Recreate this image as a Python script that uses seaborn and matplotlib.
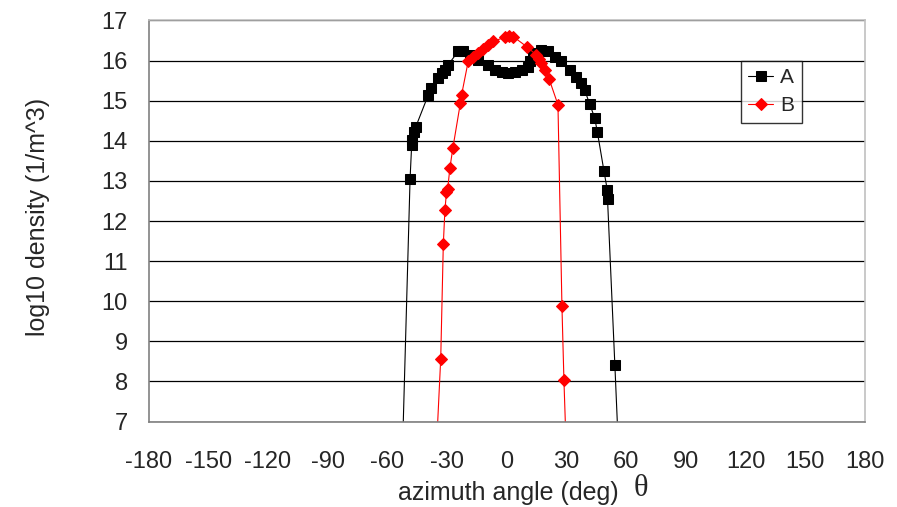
import numpy as np
import pandas as pd
import matplotlib
matplotlib.use("Agg")
import matplotlib.pyplot as plt
import seaborn as sns

# Series A (black squares): azimuth angle (deg) and log10 density
a_theta = [-53.7, -48.6, -47.8, -47.5, -46.5, -45.8, -39.4, -38.1, -34.4, -32.6,
           -31.1, -29.4, -24.4, -21.9, -18.5, -14.4, -9.4, -6.0, -2.5, 0.5,
           4.0, 7.5, 10.5, 11.5, 13.2, 17.4, 20.7, 24.1, 27.4, 31.6,
           34.9, 37.4, 39.1, 41.6, 44.1, 45.5, 48.8, 50.5, 50.6, 54.3, 58.1]
a_density = [4.0, 13.05, 13.9, 14.02, 14.23, 14.34, 15.15, 15.31, 15.56, 15.68,
             15.77, 15.9, 16.23, 16.23, 16.14, 16.02, 15.9, 15.77, 15.72, 15.70,
             15.72, 15.76, 15.85, 15.98, 16.19, 16.27, 16.23, 16.1, 15.98, 15.77,
             15.6, 15.44, 15.27, 14.92, 14.58, 14.22, 13.25, 12.77, 12.55, 8.4, 4.0]

# Series B (red diamonds)
b_theta = [-37.6, -33.2, -31.9, -31.1, -30.3, -29.7, -28.6, -27.1, -23.3, -22.7,
           -19.4, -16.9, -14.4, -12.0, -9.4, -6.9, -1.0, 1.0, 3.2, 9.9,
           14.9, 16.2, 17.4, 19.0, 21.2, 25.7, 27.7, 28.7, 31.4]
b_density = [4.0, 8.57, 11.42, 12.27, 12.72, 12.8, 13.32, 13.82, 14.95, 15.15,
             15.98, 16.1, 16.19, 16.3, 16.38, 16.48, 16.58, 16.62, 16.6, 16.35,
             16.14, 16.05, 15.94, 15.77, 15.55, 14.9, 9.88, 8.03, 4.0]

x_ticks = list(range(-180, 181, 30))
y_ticks = list(range(7, 18))

sns.set_style("white")
plt.rcParams['font.family'] = ['Liberation Sans', 'DejaVu Sans']
plt.rcParams['axes.unicode_minus'] = False

fig = plt.figure(figsize=(8.97, 5.07), dpi=100)
ax = fig.add_axes([0.1656, 0.1686, 0.7988, 0.791])

df_a = pd.DataFrame({'theta': a_theta, 'density': a_density})
df_b = pd.DataFrame({'theta': b_theta, 'density': b_density})

sns.lineplot(data=df_a, x='theta', y='density', sort=False, ax=ax, color='black',
             lw=0.8, marker='s', markersize=7.5, markeredgecolor='black', label='A')
sns.lineplot(data=df_b, x='theta', y='density', sort=False, ax=ax, color='red',
             lw=0.8, marker='D', markersize=6.5, markeredgecolor='red', label='B')

ax.set_xlim(-180, 180)
ax.set_ylim(7, 17)
ax.set_xticks(x_ticks)
ax.set_yticks(y_ticks)
ax.tick_params(axis='both', direction='out', length=6, width=1, color='#808080',
               labelsize=17)
ax.tick_params(axis='y', pad=9)
ax.tick_params(axis='x', pad=15)

ax.yaxis.grid(True, color='black', lw=0.9)
ax.xaxis.grid(False)
ax.set_axisbelow(True)
for side in ['left', 'bottom']:
    ax.spines[side].set_color('#808080')
    ax.spines[side].set_linewidth(1.2)
for side in ['top', 'right']:
    ax.spines[side].set_color('#c0c0c0')
    ax.spines[side].set_linewidth(1.2)

ax.set_xlabel("azimuth angle (deg)", fontsize=18)
ax.set_ylabel("log10 density (1/m^3)", fontsize=18)
ax.xaxis.set_label_coords(0.5017, -0.148)
ax.yaxis.set_label_coords(-0.137, 0.51)
fig.text(0.714, 0.036, "\u03b8", fontsize=22, ha='center', va='center',
         family=['Liberation Serif', 'DejaVu Serif'])

leg = ax.legend(loc='upper left', bbox_to_anchor=(0.8265, 0.90), fontsize=15,
                frameon=True, fancybox=False, edgecolor='black', handlelength=1.2,
                borderpad=0.35, labelspacing=0.45, handletextpad=0.35, borderaxespad=0)
leg.get_frame().set_linewidth(1)

fig.savefig("out.png", dpi=100)
